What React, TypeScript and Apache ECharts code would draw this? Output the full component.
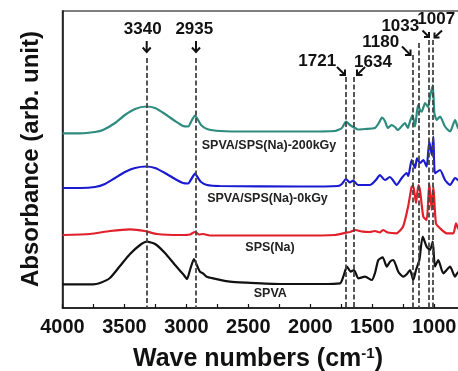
import React, { useEffect, useRef } from "react";
import * as echarts from "echarts";

// Wavenumber (cm-1) / absorbance (arb. unit, offset) pairs
const spva200: [number, number][] = [
  [4000, 174.7], [3859, 174.7], [3738, 176], [3673, 178], [3576, 185], [3496, 193], [3415, 199],
  [3326, 201.5], [3253, 200], [3173, 194], [3092, 187], [3027, 182], [2987, 181.5], [2955, 188],
  [2931, 192.5], [2906, 188], [2882, 183], [2834, 179], [2729, 177], [2487, 176.5], [2083, 176.5],
  [1801, 177], [1745, 180], [1712, 186.5], [1680, 183], [1640, 180], [1616, 178.5], [1559, 179],
  [1479, 180], [1447, 185], [1422, 190.5], [1398, 187], [1374, 180], [1345, 183], [1317, 181],
  [1293, 178], [1261, 182], [1237, 185], [1213, 180], [1197, 186], [1175, 193], [1155, 181.5],
  [1131, 203], [1115, 198], [1101, 196.3], [1074, 205], [1050, 201], [1034, 211.5], [1012, 223],
  [999, 195], [980, 188], [953, 191.5], [913, 181.5], [872, 176.5], [832, 188], [807, 180], [775, 178],
];
const spva0: [number, number][] = [
  [4000, 120], [3859, 120], [3738, 121], [3657, 124], [3576, 130], [3496, 136], [3415, 140],
  [3326, 141.5], [3253, 140], [3173, 135], [3092, 129], [3027, 125], [2987, 124.5], [2955, 130],
  [2931, 134.5], [2906, 130], [2882, 126], [2834, 123], [2729, 122], [2083, 121.5], [1777, 122],
  [1745, 124], [1712, 129], [1680, 125.5], [1653, 127.5], [1616, 123], [1519, 123], [1471, 128],
  [1439, 133], [1398, 128], [1358, 131], [1334, 128], [1304, 123], [1262, 130], [1222, 135],
  [1209, 132], [1182, 148], [1155, 140], [1139, 149.7], [1115, 145], [1088, 148], [1061, 141.3],
  [1040, 166.3], [1020, 153], [1007, 171.3], [994, 134.7], [953, 138], [913, 128], [872, 123],
  [832, 130], [807, 128], [775, 126],
];
const spsNa: [number, number][] = [
  [4000, 73], [3778, 74], [3617, 77], [3455, 78.7], [3334, 77], [3237, 74], [3052, 73], [2971, 73.5],
  [2931, 76], [2898, 73.5], [2866, 74], [2810, 72.5], [2083, 72.5], [1801, 73], [1736, 74.7],
  [1680, 76], [1640, 78], [1576, 76.3], [1519, 76], [1479, 77], [1439, 75.5], [1414, 78],
  [1374, 75.5], [1304, 74.7], [1252, 81.3], [1211, 101.3], [1182, 121.3], [1169, 122], [1147, 105],
  [1128, 123], [1115, 118], [1088, 91.3], [1061, 88], [1040, 124.7], [1020, 98], [1007, 121.3],
  [986, 84.7], [953, 79.7], [899, 74.7], [846, 74.7], [824, 84.7], [807, 79.7], [775, 76],
];
const spva: [number, number][] = [
  [4000, 23.7], [3754, 23.7], [3697, 25], [3617, 30], [3536, 42], [3455, 54], [3374, 63],
  [3320, 66.3], [3253, 64], [3173, 55], [3092, 43], [3027, 34], [2995, 29], [2971, 38], [2939, 49],
  [2906, 40], [2890, 36.3], [2866, 34.7], [2836, 31.3], [2785, 29.7], [2648, 26.3], [2513, 25.3],
  [2245, 24], [1922, 24], [1760, 24.7], [1734, 31.3], [1704, 41.3], [1674, 36.3], [1647, 38],
  [1613, 29.7], [1558, 31.3], [1504, 28], [1478, 35], [1451, 48], [1416, 50.7], [1383, 41.3],
  [1357, 46.3], [1330, 48], [1290, 36.3], [1249, 31.3], [1220, 34], [1195, 38], [1169, 28],
  [1147, 38], [1120, 48], [1093, 71.3], [1061, 61.3], [1034, 58], [1012, 66.3], [994, 41.3],
  [967, 48], [927, 34.7], [872, 41.3], [832, 31.3], [807, 36], [775, 32],
];

const seriesNames = ["SPVA/SPS(Na)-200kGy", "SPVA/SPS(Na)-0kGy", "SPS(Na)", "SPVA"];
// dashed marker lines: wavenumber and top of the line (same units as absorbance)
const markerWn = [3320, 2923, 1717, 1647, 1177, 1123, 1044, 1010];
const markerTop = [250, 250, 231, 231, 253, 265, 268, 268];
const peakLabels = ["3340", "2935", "1721", "1634", "1180", "1033", "1007"];

const xTickStep = 250;

export default function App() {
  const ref = useRef<HTMLDivElement>(null);
  useEffect(() => {
    if (!ref.current) return;
    const chart = echarts.init(ref.current, null, { renderer: "svg" });
    const font = "Arial, 'Liberation Sans', sans-serif";
    const colors = ["#2e8b7f", "#1a1ad0", "#e0202a", "#111111"];
    const datasets = [spva200, spva0, spsNa, spva];

    // annotation layout (pixels)
    const labelPos: [number, number][] = [
      [142.7, 28.3], [194.3, 28.3], [317.2, 60], [373, 61.7], [380.7, 41.7], [400.3, 25], [436.2, 18.3],
    ];
    const arrows: { shaft: [number, number, number, number]; head: [number, number][] }[] = [
      { shaft: [146.7, 41, 146.7, 52], head: [[142.7, 47.5], [146.7, 52], [150.7, 47.5]] },
      { shaft: [196, 41, 196, 52], head: [[192, 47.5], [196, 52], [200, 47.5]] },
      { shaft: [337, 67, 345, 75], head: [[339.5, 75], [345, 75], [345, 69.5]] },
      { shaft: [365, 67, 357, 75], head: [[362.5, 75], [357, 75], [357, 69.5]] },
      { shaft: [402, 46.5, 410.5, 55], head: [[405, 55], [410.5, 55], [410.5, 49.5]] },
      { shaft: [422.5, 30.5, 429, 37], head: [[424, 37], [429, 37], [429, 32]] },
      { shaft: [442, 30.5, 434.5, 37.5], head: [[439.5, 37.5], [434.5, 37.5], [434.5, 32.5]] },
    ];
    const namePos: [number, number][] = [[269, 145], [267.5, 198.3], [270, 246.7], [270.3, 293.3]];

    const graphic: any[] = [];
    peakLabels.forEach((t, i) => {
      graphic.push({
        type: "text", x: labelPos[i][0], y: labelPos[i][1], z: 100,
        style: { text: t, font: `bold 17px ${font}`, fill: "#111", align: "center", verticalAlign: "middle" },
      });
    });
    arrows.forEach((a) => {
      graphic.push({
        type: "line", z: 100,
        shape: { x1: a.shaft[0], y1: a.shaft[1], x2: a.shaft[2], y2: a.shaft[3] },
        style: { stroke: "#111", lineWidth: 2 },
      });
      graphic.push({
        type: "polyline", z: 100,
        shape: { points: a.head },
        style: { stroke: "#111", lineWidth: 2, fill: null },
      });
    });
    seriesNames.forEach((n, i) => {
      graphic.push({
        type: "text", x: namePos[i][0], y: namePos[i][1], z: 100,
        style: { text: n, font: `bold 12.5px ${font}`, fill: "#222", align: "center", verticalAlign: "middle" },
      });
    });
    graphic.push({
      type: "text", x: 29, y: 159, rotation: Math.PI / 2, z: 100,
      style: { text: "Absorbance (arb. unit)", font: `bold 24px ${font}`, fill: "#111", align: "center", verticalAlign: "middle" },
    });
    graphic.push({
      type: "text", x: 258, y: 357, z: 100,
      style: {
        text: "Wave numbers (cm{sup|-1})",
        font: `bold 25px ${font}`, fill: "#111", align: "center", verticalAlign: "middle",
        rich: { sup: { font: `bold 15px ${font}`, fill: "#111", verticalAlign: "top", padding: [0, 0, 10, 0] } },
      },
    });

    const series: any[] = datasets.map((d, i) => ({
      name: seriesNames[i],
      type: "line",
      data: d,
      showSymbol: false,
      smooth: 0.2,
      lineStyle: { color: colors[i], width: 2.2 },
      itemStyle: { color: colors[i] },
      z: 2,
    }));
    series.push({
      type: "line",
      data: [],
      z: 5,
      markLine: {
        silent: true,
        symbol: "none",
        label: { show: false },
        lineStyle: { color: "#444", width: 1.8, type: [5, 2.5] },
        data: markerWn.map((w, i) => [{ coord: [w, markerTop[i]] }, { coord: [w, 0] }]),
      },
    });

    chart.setOption({
      animation: false,
      grid: {
        left: 62.5, top: 11, width: 402.7, height: 297,
        show: true, borderColor: "#555", borderWidth: 1.5,
        containLabel: false, outerBoundsMode: "none",
      },
      xAxis: {
        type: "value",
        min: 750,
        max: 4000,
        interval: xTickStep,
        inverse: true,
        splitLine: { show: false },
        axisLine: { show: true, lineStyle: { color: "#111", width: 1.5 } },
        axisTick: { show: true, inside: true, length: 4, lineStyle: { color: "#111", width: 1.2 } },
        axisLabel: {
          margin: 8,
          color: "#111",
          fontFamily: font,
          fontWeight: "bold",
          fontSize: 20,
          hideOverlap: false,
          formatter: (v: number) => (v % 500 === 0 ? String(v) : ""),
        },
      },
      yAxis: {
        type: "value",
        min: 0,
        max: 297,
        axisLine: { show: true, lineStyle: { color: "#111", width: 1.5 } },
        axisTick: { show: false },
        axisLabel: { show: false },
        splitLine: { show: false },
      },
      graphic,
      series,
    });
    return () => chart.dispose();
  }, []);
  return <div ref={ref} style={{ position: "fixed", left: 0, top: 0, width: 458, height: 371 }} />;
}
